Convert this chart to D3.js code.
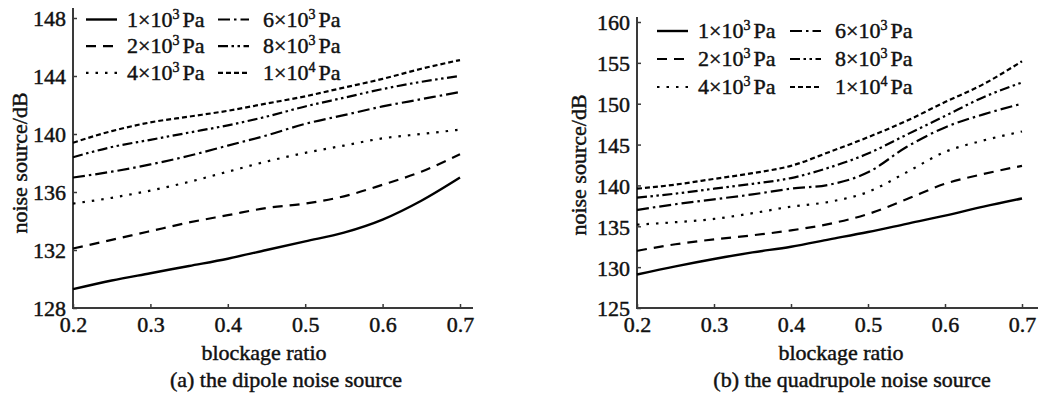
<!DOCTYPE html>
<html>
<head>
<meta charset="utf-8">
<script src="https://cdn.jsdelivr.net/npm/d3@7/dist/d3.min.js"></script>
<style>
  body { margin: 0; background: #fff; }
  svg text { font-family: "Liberation Serif", "Times New Roman", serif; fill: #111; stroke: #111; stroke-width: 0.45px; }
</style>
</head>
<body>
<svg id="chart" width="1042" height="396"></svg>
<script>
// blockage ratio (x values shared by every series)
const ratios = [0.2, 0.25, 0.3, 0.35, 0.4, 0.45, 0.5, 0.55, 0.6, 0.65, 0.7];

// series labels: [mantissa, exponent]
const pressures = [["1", "3"], ["2", "3"], ["4", "3"], ["6", "3"], ["8", "3"], ["1", "4"]];

// (a) dipole noise source, dB
const dipole1e3 = [129.3, 129.9, 130.4, 130.9, 131.4, 132.0, 132.6, 133.2, 134.1, 135.4, 137.0];
const dipole2e3 = [132.1, 132.7, 133.3, 133.9, 134.4, 134.9, 135.2, 135.7, 136.5, 137.4, 138.6];
const dipole4e3 = [135.2, 135.6, 136.1, 136.7, 137.4, 138.1, 138.7, 139.2, 139.7, 140.0, 140.3];
const dipole6e3 = [137.0, 137.4, 137.9, 138.5, 139.2, 139.9, 140.7, 141.3, 141.9, 142.4, 142.9];
const dipole8e3 = [138.4, 139.1, 139.6, 140.1, 140.6, 141.2, 141.9, 142.5, 143.1, 143.6, 144.0];
const dipole1e4 = [139.4, 140.2, 140.8, 141.2, 141.6, 142.1, 142.6, 143.2, 143.8, 144.5, 145.1];

// (b) quadrupole noise source, dB
const quad1e3 = [129.1, 130.1, 131.0, 131.8, 132.5, 133.4, 134.3, 135.3, 136.3, 137.4, 138.4];
const quad2e3 = [132.0, 132.8, 133.4, 133.9, 134.5, 135.3, 136.5, 138.3, 140.2, 141.4, 142.4];
const quad4e3 = [135.2, 135.5, 135.9, 136.6, 137.4, 138.0, 139.2, 141.6, 144.1, 145.5, 146.6];
const quad6e3 = [137.0, 137.7, 138.3, 138.9, 139.6, 140.1, 141.6, 144.7, 147.1, 148.7, 150.0];
const quad8e3 = [138.5, 139.0, 139.6, 140.2, 140.9, 142.2, 143.9, 146.2, 148.5, 150.8, 152.6];
const quad1e4 = [139.6, 140.1, 140.8, 141.5, 142.4, 144.1, 145.9, 147.9, 150.2, 152.4, 155.2];

const xTicks = [0.2, 0.3, 0.4, 0.5, 0.6, 0.7];
const dipoleTicks = [128, 132, 136, 140, 144, 148];
const quadTicks = [125, 130, 135, 140, 145, 150, 155, 160];

const xLabel = "blockage ratio";
const yLabel = "noise source/dB";

// line style per series, same order as pressures
const dashes = ["none", "10,7", "2.5,7", "12,4,2.5,4", "10,3.5,2.5,3.5,2.5,3.5", "5,3"];

const svg = d3.select("#chart");

const panels = [
    {
        series: [dipole1e3, dipole2e3, dipole4e3, dipole6e3, dipole8e3, dipole1e4],
        yDomain: [128, 148], yTicks: dipoleTicks,
        left: 73, right: 460, top: 18, bottom: 308, axisEnd: 473, axisTop: 8,
        caption: "(a) the dipole noise source", captionX: 286, xLabelX: 264, yLabelX: 27,
        legendX: 86, legendX2: 218, legendY: 26.5, legendStep: 26.7
    },
    {
        series: [quad1e3, quad2e3, quad4e3, quad6e3, quad8e3, quad1e4],
        yDomain: [125, 160], yTicks: quadTicks,
        left: 637, right: 1022, top: 22, bottom: 308, axisEnd: 1038, axisTop: 17,
        caption: "(b) the quadrupole noise source", captionX: 852, xLabelX: 841, yLabelX: 586,
        legendX: 657, legendX2: 790, legendY: 38, legendStep: 28
    }
];

for (let p of panels) {
    let g = svg.append("g");

    let x = d3.scaleLinear().domain([0.2, 0.7]).range([p.left, p.right]);
    let y = d3.scaleLinear().domain(p.yDomain).range([p.bottom, p.top]);

    // axes
    let xAxis = d3.axisBottom(x).tickValues(xTicks).tickSizeInner(-4).tickSizeOuter(0)
        .tickPadding(8).tickFormat(d3.format(".1f"));
    let yAxis = d3.axisLeft(y).tickValues(p.yTicks).tickSizeInner(-4).tickSizeOuter(0)
        .tickPadding(7);

    let gx = g.append("g").attr("transform", `translate(0,${p.bottom})`).call(xAxis);
    let gy = g.append("g").attr("transform", `translate(${p.left},0)`).call(yAxis);
    for (let ax of [gx, gy]) {
        ax.select(".domain").remove();
        ax.selectAll(".tick line").attr("stroke", "#3a3a3a").attr("stroke-width", 1.5);
        ax.selectAll(".tick text").attr("font-size", 22)
            .attr("font-family", "Liberation Serif").attr("fill", "#111");
    }
    gy.selectAll(".tick text").attr("dy", "0.36em");

    g.append("line")
        .attr("x1", p.left).attr("x2", p.left)
        .attr("y1", p.axisTop).attr("y2", p.bottom + 1)
        .attr("stroke", "#3a3a3a").attr("stroke-width", 2);
    g.append("line")
        .attr("x1", p.left - 1).attr("x2", p.axisEnd)
        .attr("y1", p.bottom).attr("y2", p.bottom)
        .attr("stroke", "#3a3a3a").attr("stroke-width", 2);

    // curves
    let line = d3.line()
        .x((d, i) => x(ratios[i]))
        .y(d => y(d))
        .curve(d3.curveMonotoneX);

    g.selectAll("path.series")
        .data(p.series)
        .join("path")
        .attr("class", "series")
        .attr("d", line)
        .attr("fill", "none")
        .attr("stroke", "#000")
        .attr("stroke-width", (d, i) => i === 0 ? 2.4 : 2.2)
        .attr("stroke-dasharray", (d, i) => dashes[i]);

    // legend: column-major, 3 rows
    pressures.forEach((pr, i) => {
        let col = Math.floor(i / 3);
        let row = i % 3;
        let lx = col === 0 ? p.legendX : p.legendX2;
        let ly = p.legendY + row * p.legendStep;
        g.append("line")
            .attr("x1", lx).attr("x2", lx + 31)
            .attr("y1", ly - 7).attr("y2", ly - 7)
            .attr("stroke", "#000")
            .attr("stroke-width", i === 0 ? 2.4 : 2.2)
            .attr("stroke-dasharray", dashes[i]);
        let t = g.append("text")
            .attr("x", lx + (col === 0 ? 41 : 45))
            .attr("y", ly)
            .attr("font-size", 22);
        t.append("tspan").text(pr[0] + "×10");
        t.append("tspan").attr("font-size", 14).attr("dy", -8).text(pr[1]);
        t.append("tspan").attr("dy", 8).attr("dx", 3).text("Pa");
    });

    // labels
    g.append("text")
        .attr("x", p.xLabelX).attr("y", 360)
        .attr("text-anchor", "middle").attr("font-size", 22)
        .text(xLabel);
    g.append("text")
        .attr("x", p.captionX).attr("y", 387)
        .attr("text-anchor", "middle").attr("font-size", 22)
        .text(p.caption);
    g.append("text")
        .attr("transform", `translate(${p.yLabelX},${(p.top + p.bottom) / 2}) rotate(-90)`)
        .attr("text-anchor", "middle").attr("font-size", 22)
        .text(yLabel);
}
</script>
</body>
</html>
